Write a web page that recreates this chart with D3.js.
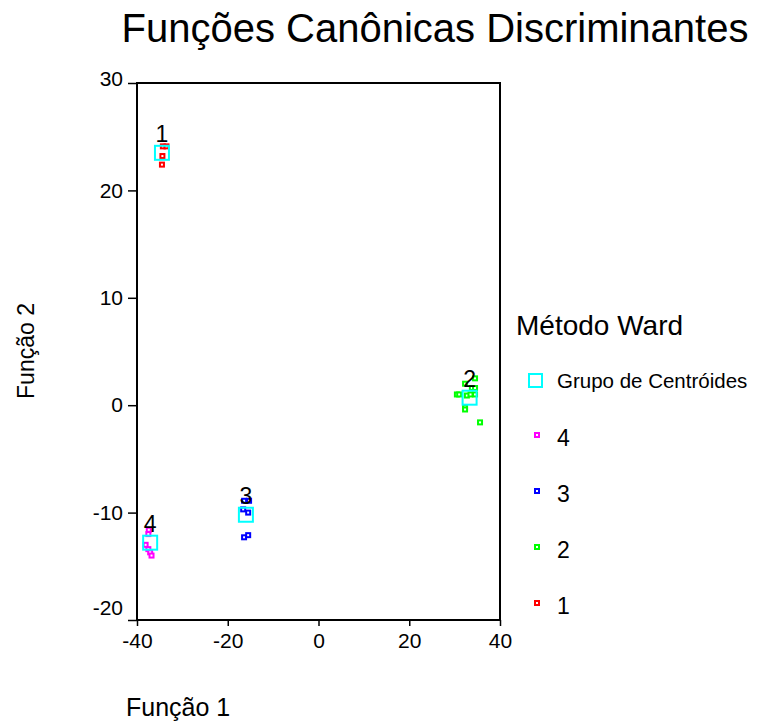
<!DOCTYPE html>
<html>
<head>
<meta charset="utf-8">
<script src="https://cdn.jsdelivr.net/npm/d3@7"></script>
<style>
  body { margin: 0; background: #fff; }
  text { font-family: "Liberation Sans", Arial, sans-serif; fill: #000; }
</style>
</head>
<body>
<script>
// discriminant scores per Ward group (Função 1, Função 2)
var group1 = [[-34.3, 24.1], [-33.5, 24.1], [-34.4, 23.2], [-34.5, 22.4]];
var group2 = [[34.5, 2.5], [32.3, 2.0], [33.8, 1.6], [34.5, 1.6], [30.5, 1.0], [31.0, 1.0],
              [32.7, 0.9], [33.5, 1.0], [34.5, 1.0], [32.3, -0.2], [32.3, -0.4], [35.6, -1.6]];
var group3 = [[-16.4, -8.9], [-15.3, -8.9], [-16.6, -9.7], [-15.5, -10.0], [-16.4, -12.3], [-15.5, -12.1]];
var group4 = [[-37.4, -11.6], [-37.5, -12.0], [-38.1, -13.0], [-37.5, -13.4], [-37.1, -13.7], [-36.8, -14.0]];

var groupNames = ["1", "2", "3", "4"];
var centroids = [[-34.5, 23.5], [33.3, 0.7], [-16.0, -10.2], [-37.1, -12.8]];
var groupColors = ["#ff0000", "#00ff00", "#0000ff", "#ff00ff"];

var xTicks = [-40, -20, 0, 20, 40];
var yTicks = [-20, -10, 0, 10, 20, 30];
var legendOrder = ["4", "3", "2", "1"];

var width = 758, height = 726;

var svg = d3.select("body").append("svg")
    .attr("width", width)
    .attr("height", height);

var x = d3.scaleLinear().domain([-40, 40]).range([137, 500]);
var y = d3.scaleLinear().domain([-20, 30]).range([620, 83]);

// title
svg.append("text")
    .attr("x", 435)
    .attr("y", 42)
    .attr("text-anchor", "middle")
    .style("font-size", "40px")
    .text("Funções Canônicas Discriminantes");

// axes (plain hyphen minus like the original)
var fmt = function (d) { return String(d); };

var yAxis = svg.append("g")
    .attr("transform", "translate(137,0)")
    .call(d3.axisLeft(y).tickValues(yTicks).tickFormat(fmt).tickSize(9).tickPadding(5));
yAxis.select(".domain").remove();
yAxis.selectAll("line").attr("stroke", "#000").attr("stroke-width", 1.5);
yAxis.selectAll("text")
    .attr("y", function (d) { return d == -20 ? -12 : (d == 30 ? -4 : 0); })
    .style("font-size", "21px")
    .style("font-family", "'Liberation Sans', Arial, sans-serif");

var xAxis = svg.append("g")
    .attr("transform", "translate(0,620)")
    .call(d3.axisBottom(x).tickValues(xTicks).tickFormat(fmt).tickSize(6).tickPadding(7));
xAxis.select(".domain").remove();
xAxis.selectAll("line").attr("stroke", "#000").attr("stroke-width", 1.5);
xAxis.selectAll("text")
    .style("font-size", "21px")
    .style("font-family", "'Liberation Sans', Arial, sans-serif");

// frame
svg.append("rect")
    .attr("x", x(-40))
    .attr("y", y(30))
    .attr("width", x(40) - x(-40))
    .attr("height", y(-20) - y(30))
    .attr("fill", "none")
    .attr("stroke", "#000")
    .attr("stroke-width", 2);

// axis titles
svg.append("text")
    .attr("transform", "translate(34,351) rotate(-90)")
    .attr("text-anchor", "middle")
    .style("font-size", "23px")
    .text("Função 2");

svg.append("text")
    .attr("x", 126)
    .attr("y", 716)
    .style("font-size", "25px")
    .text("Função 1");

// points
var groups = [group1, group2, group3, group4];
var ms = 4;
groups.forEach(function (pts, i) {
    svg.append("g").selectAll("rect")
        .data(pts)
        .enter().append("rect")
        .attr("x", function (d) { return x(d[0]) - ms / 2; })
        .attr("y", function (d) { return y(d[1]) - ms / 2; })
        .attr("width", ms)
        .attr("height", ms)
        .attr("fill", "#fff")
        .attr("stroke", groupColors[i])
        .attr("stroke-width", 2);
});

// centroids
var cs = 14;
svg.append("g").selectAll("rect")
    .data(centroids)
    .enter().append("rect")
    .attr("x", function (d) { return x(d[0]) - cs / 2; })
    .attr("y", function (d) { return y(d[1]) - cs / 2; })
    .attr("width", cs)
    .attr("height", cs)
    .attr("fill", "none")
    .attr("stroke", "#00ffff")
    .attr("stroke-width", 2);

svg.append("g").selectAll("text")
    .data(centroids)
    .enter().append("text")
    .attr("x", function (d) { return x(d[0]); })
    .attr("y", function (d) { return y(d[1]) - 11; })
    .attr("text-anchor", "middle")
    .style("font-size", "23px")
    .text(function (d, i) { return groupNames[i]; });

// legend
var legend = svg.append("g");
legend.append("text")
    .attr("x", 516)
    .attr("y", 335)
    .style("font-size", "28px")
    .text("Método Ward");

legend.append("rect")
    .attr("x", 529).attr("y", 374)
    .attr("width", 13).attr("height", 13)
    .attr("fill", "none")
    .attr("stroke", "#00ffff")
    .attr("stroke-width", 2);
legend.append("text")
    .attr("x", 557)
    .attr("y", 388)
    .style("font-size", "20.5px")
    .text("Grupo de Centróides");

var items = legend.selectAll(".item")
    .data(legendOrder)
    .enter().append("g")
    .attr("class", "item")
    .attr("transform", function (d, i) { return "translate(537," + (435 + i * 56) + ")"; });
items.append("rect")
    .attr("x", -ms / 2).attr("y", -ms / 2)
    .attr("width", ms).attr("height", ms)
    .attr("fill", "#fff")
    .attr("stroke", function (d) { return groupColors[groupNames.indexOf(d)]; })
    .attr("stroke-width", 2);
items.append("text")
    .attr("x", 20)
    .attr("y", 11)
    .style("font-size", "23px")
    .text(function (d) { return d; });
</script>
</body>
</html>
